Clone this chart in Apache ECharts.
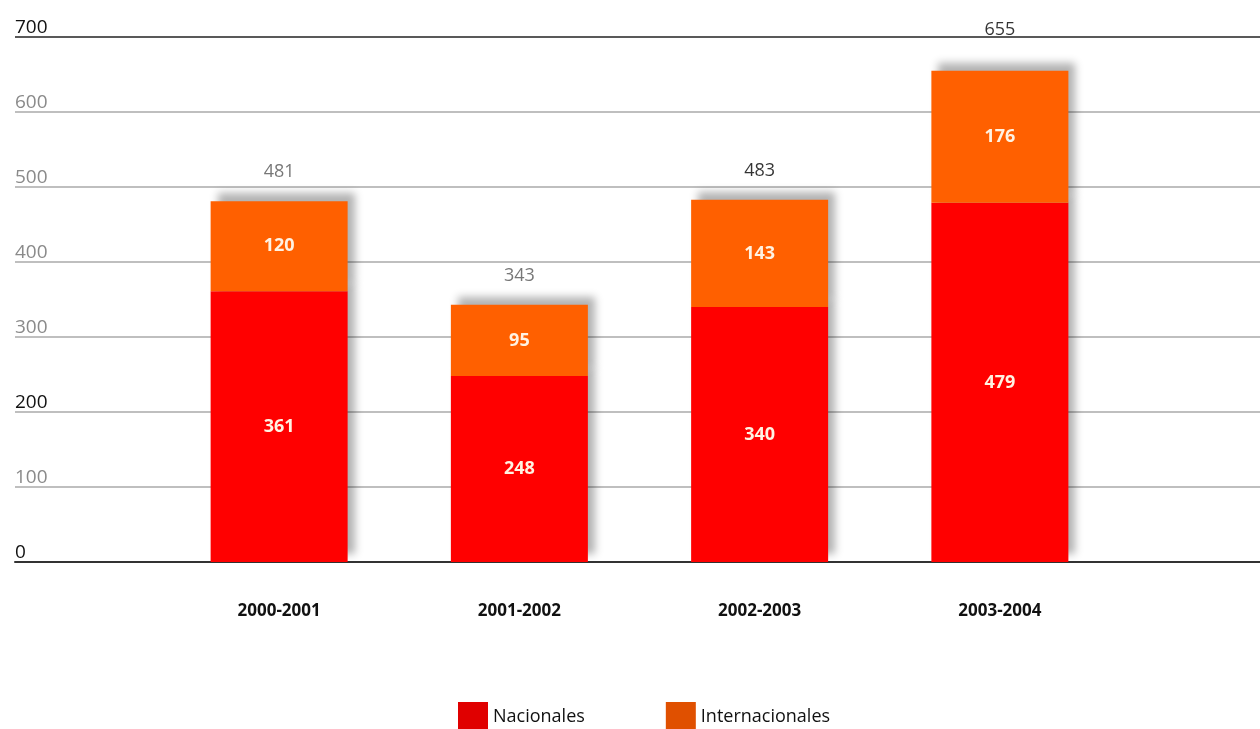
<!DOCTYPE html>
<html>
<head>
<meta charset="utf-8">
<script src="https://cdn.jsdelivr.net/npm/echarts@6/dist/echarts.min.js"></script>
<style>
  html, body { margin: 0; padding: 0; background: #fff; }
  #chart { width: 1260px; height: 729px; }
</style>
</head>
<body>
<div id="chart"></div>
<script>
// Academic years on the horizontal axis
const categories = ['2000-2001', '2001-2002', '2002-2003', '2003-2004'];
// Counts per year
const nacionales = [361, 248, 340, 479];
const internacionales = [120, 95, 143, 176];
const totals = [481, 343, 483, 655];
// Value axis ticks
const yTicks = [0, 100, 200, 300, 400, 500, 600, 700];

const FONT = '"Open Sans", "Noto Sans", sans-serif';
const darkTicks = [0, 200, 700];
const totalStyles = ['light', 'light', 'dark', 'dark'];

const chart = echarts.init(document.getElementById('chart'));

const barShadow = {
  shadowBlur: 8,
  shadowColor: 'rgba(0,0,0,0.3)',
  shadowOffsetX: 7,
  shadowOffsetY: -8
};

chart.setOption({
  animation: false,
  backgroundColor: '#fff',
  textStyle: { fontFamily: FONT },
  grid: [
    // full-width frame carrying the value gridlines
    { left: 15, right: 0, top: 37, bottom: 167 },
    // bars
    { left: 159, right: 140, top: 37, bottom: 167 }
  ],
  legend: {
    left: 453,
    top: 697,
    itemWidth: 30,
    itemHeight: 30,
    itemGap: 81,
    icon: 'rect',
    textStyle: { fontFamily: FONT, fontSize: 18, color: '#111' },
    data: [
      { name: 'Nacionales', itemStyle: { color: '#e00000', shadowBlur: 0, shadowOffsetX: 0, shadowOffsetY: 0 } },
      { name: 'Internacionales', itemStyle: { color: '#e05000', shadowBlur: 0, shadowOffsetX: 0, shadowOffsetY: 0 } }
    ]
  },
  xAxis: [
    {
      gridIndex: 0, type: 'value', min: 0, max: 1,
      axisLabel: { show: false }, axisTick: { show: false }, splitLine: { show: false },
      axisLine: { show: true, lineStyle: { color: '#333', width: 2 } }
    },
    {
      gridIndex: 1, type: 'category', data: categories,
      axisLine: { show: false }, axisTick: { show: false },
      axisLabel: { margin: 41, fontFamily: FONT, fontSize: 17, fontWeight: 'bold', color: '#111' }
    }
  ],
  yAxis: [
    {
      gridIndex: 0, type: 'value', min: yTicks[0], max: yTicks[yTicks.length - 1], interval: 100,
      axisLine: { show: false }, axisTick: { show: false },
      axisLabel: {
        inside: true, margin: 0, verticalAlign: 'bottom', lineHeight: 19,
        fontFamily: FONT, fontSize: 19,
        color: (v) => darkTicks.indexOf(Number(v)) >= 0 ? '#111' : '#8a8a8a'
      },
      splitLine: {
        lineStyle: {
          width: 1.5,
          color: yTicks.map(t => t === 700 ? '#222' : '#aaa')
        }
      }
    },
    {
      gridIndex: 1, type: 'value', min: yTicks[0], max: yTicks[yTicks.length - 1], show: false
    }
  ],
  series: [
    {
      name: 'Nacionales', type: 'bar', stack: 'total',
      xAxisIndex: 1, yAxisIndex: 1, barWidth: 137,
      data: nacionales,
      itemStyle: Object.assign({ color: '#ff0000' }, barShadow),
      label: { show: true, position: 'inside', color: '#fff2e2', fontFamily: FONT, fontSize: 18, fontWeight: 'bold' }
    },
    {
      name: 'Internacionales', type: 'bar', stack: 'total',
      xAxisIndex: 1, yAxisIndex: 1, barWidth: 137,
      data: internacionales,
      itemStyle: Object.assign({ color: '#ff6000' }, barShadow),
      label: { show: true, position: 'inside', color: '#fff2e2', fontFamily: FONT, fontSize: 18, fontWeight: 'bold' }
    },
    {
      name: 'Total', type: 'scatter',
      xAxisIndex: 1, yAxisIndex: 1, symbolSize: 0, silent: true,
      data: totals.map((v, i) => ({
        value: v,
        label: { distance: i === 3 ? 32 : 20 }
      })),
      label: {
        show: true, position: 'top',
        formatter: (p) => '{' + totalStyles[p.dataIndex] + '|' + p.value + '}',
        rich: {
          light: { color: '#555', fontFamily: FONT, fontSize: 18 },
          dark: { color: '#000', fontFamily: FONT, fontSize: 18, fontWeight: 500 }
        }
      }
    }
  ]
});
</script>
</body>
</html>
